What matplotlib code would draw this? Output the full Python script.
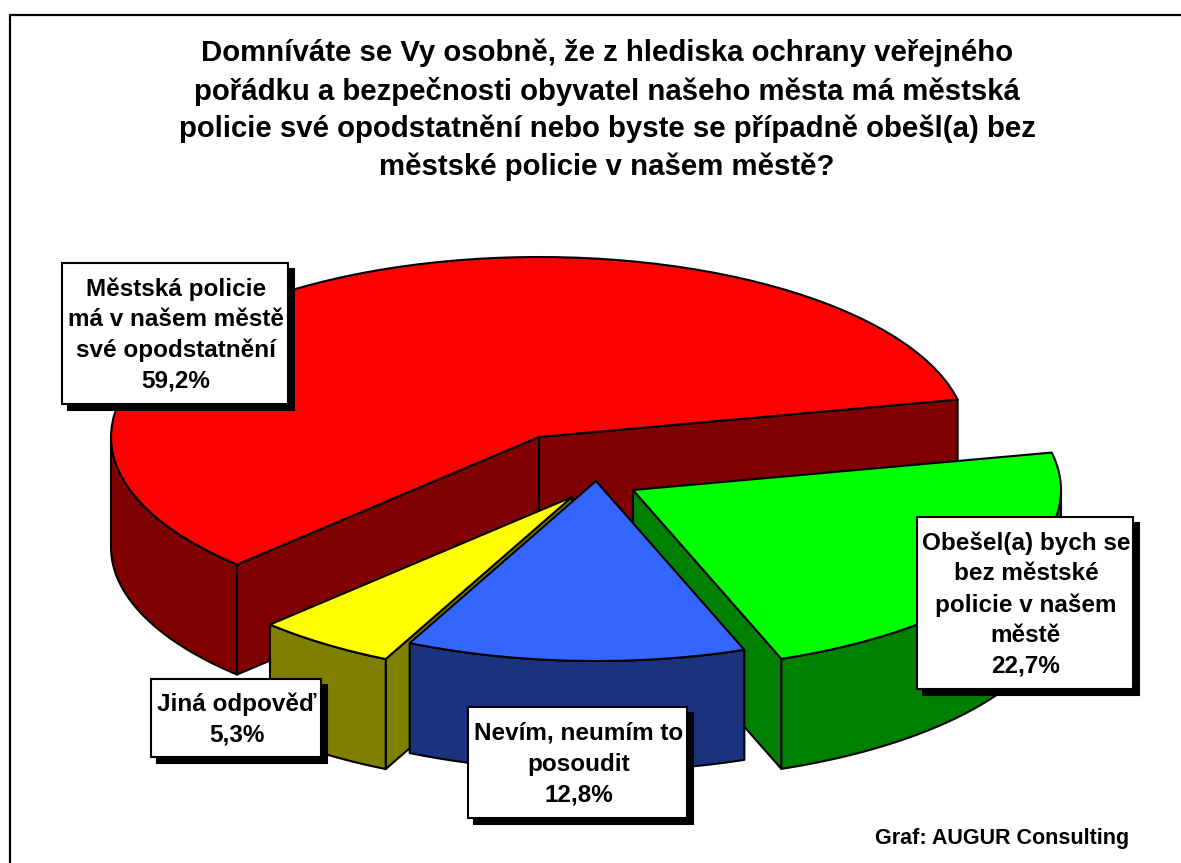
import numpy as np
import matplotlib
matplotlib.use("Agg")
import matplotlib.pyplot as plt
from matplotlib.patches import Polygon, Rectangle

# survey results, counter-clockwise from the start angle
answers = [
    "Městská policie\nmá v našem městě\nsvé opodstatnění",
    "Jiná odpověď",
    "Nevím, neumím to\nposoudit",
    "Obešel(a) bych se\nbez městské\npolicie v našem\nměstě",
]
shares = [59.2, 5.3, 12.8, 22.7]
top_colors = ["#FF0000", "#FFFF00", "#3366FF", "#00FF00"]
side_colors = ["#800000", "#808000", "#1A337F", "#008000"]

title = ("Domníváte se Vy osobně, že z hlediska ochrany veřejného\n"
         "pořádku a bezpečnosti obyvatel našeho města má městská\n"
         "policie své opodstatnění nebo byste se případně obešl(a) bez\n"
         "městské policie v našem městě?")
credit = "Graf: AUGUR Consulting"

# layout in pixels of the 1181x863 picture
W, H = 1181, 863
A, B, DEPTH = 428, 180, 110
START = 12
apexes = [(539, 437), (572, 497), (596, 481), (633, 490)]
boxes = [(62, 263, 226, 141), (151, 679, 170, 78), (468, 707, 219, 111), (917, 517, 216, 172)]
draw_order = [0, 1, 3, 2]  # blue sits in front of the green wall
BLACK_LW = 1.5

plt.rcParams["font.family"] = ["Liberation Sans", "DejaVu Sans"]


def arc(apex, t0, t1, n=80):
    t = np.radians(np.linspace(t0, t1, n))
    return np.column_stack([apex[0] + A * np.cos(t), apex[1] - B * np.sin(t)])


def side_wall(apex, t, color, ax):
    p = arc(apex, t, t, 1)[0]
    pts = [apex, p, (p[0], p[1] + DEPTH), (apex[0], apex[1] + DEPTH)]
    ax.add_patch(Polygon(pts, closed=True, fc=color, ec="black", lw=BLACK_LW, joinstyle="round"))


def draw_slice(apex, t0, t1, top, side, ax):
    # radial walls only show when they face the viewer
    if np.cos(np.radians(t0)) > 0:
        side_wall(apex, t0, side, ax)
    if np.cos(np.radians(t1)) < 0:
        side_wall(apex, t1, side, ax)

    # outer rim, only the front half of the ellipse
    lo, hi = max(t0, 180), min(t1, 360)
    if lo < hi:
        rim = arc(apex, lo, hi)
        low = rim[::-1] + [0, DEPTH]
        ax.add_patch(Polygon(np.vstack([rim, low]), closed=True, fc=side, ec="black",
                             lw=BLACK_LW, joinstyle="round"))

    pts = np.vstack([[apex], arc(apex, t0, t1)])
    ax.add_patch(Polygon(pts, closed=True, fc=top, ec="black", lw=BLACK_LW, joinstyle="round"))


def draw_label(box, text, ax):
    x, y, w, h = box
    ax.add_patch(Rectangle((x + 6, y + 6), w, h, fc="black", ec="black", lw=BLACK_LW))
    ax.add_patch(Rectangle((x, y), w, h, fc="white", ec="black", lw=BLACK_LW))
    ax.text(x + w / 2 + 1, y + h / 2 + 1.5, text, ha="center", va="center", fontsize=17.5,
            fontweight="bold", linespacing=1.42)


fig = plt.figure(figsize=(W / 100, H / 100), dpi=100)
ax = fig.add_axes([0, 0, 1, 1])
ax.set_xlim(0, W)
ax.set_ylim(H, 0)
ax.axis("off")

# frame: only top and left are in the picture
ax.plot([10, 10, W], [H, 15, 15], color="black", lw=1.6)

ax.text(607, 110, title, ha="center", va="center", fontsize=21.2, fontweight="bold", linespacing=1.41)

# slice angles follow the shares, cumulated around the pie
edges = START + np.concatenate([[0], np.cumsum(shares)]) * 3.6
for i in draw_order:
    draw_slice(apexes[i], edges[i], edges[i + 1], top_colors[i], side_colors[i], ax)

for i in range(len(shares)):
    value = f"{shares[i]:.1f}".replace(".", ",") + "%"
    draw_label(boxes[i], answers[i] + "\n" + value, ax)

ax.text(1002.5, 838, credit, ha="center", va="center", fontsize=15.5, fontweight="bold")

plt.savefig("out.png", dpi=100)
